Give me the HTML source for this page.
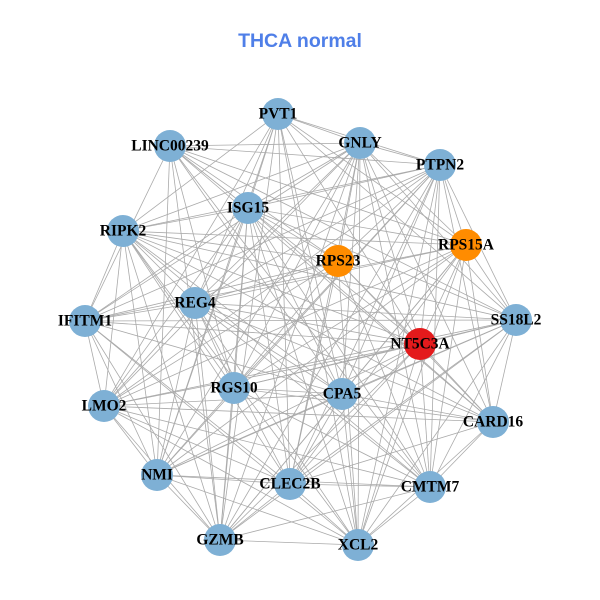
<!DOCTYPE html>
<html><head><meta charset="utf-8"><style>
html,body{margin:0;padding:0;background:#fff}
svg{display:block}
text.l{font-family:"Liberation Serif",serif;font-weight:bold;font-size:15.5px;fill:#000;text-anchor:middle;dominant-baseline:central}
</style></head><body>
<svg id="s" width="600" height="600" viewBox="0 0 600 600">
<text x="300" y="41" text-anchor="middle" dominant-baseline="central" style="font-family:'Liberation Sans',sans-serif;font-weight:bold;font-size:19.5px;fill:#4F7FE8">THCA normal</text>
<g id="e" stroke="#aaaaaa" stroke-width="0.8"></g>
<g id="n"></g>
<g>
<text class="l" x="278" y="114">PVT1</text>
<text class="l" x="360" y="143">GNLY</text>
<text class="l" x="440" y="165">PTPN2</text>
<text class="l" x="170" y="146">LINC00239</text>
<text class="l" x="248" y="208">ISG15</text>
<text class="l" x="123" y="231">RIPK2</text>
<text class="l" x="338" y="261">RPS23</text>
<text class="l" x="466" y="245">RPS15A</text>
<text class="l" x="195" y="303">REG4</text>
<text class="l" x="85" y="321">IFITM1</text>
<text class="l" x="516" y="320">SS18L2</text>
<text class="l" x="420" y="344">NT5C3A</text>
<text class="l" x="234" y="388">RGS10</text>
<text class="l" x="342" y="394">CPA5</text>
<text class="l" x="104" y="406">LMO2</text>
<text class="l" x="493" y="422">CARD16</text>
<text class="l" x="157" y="475">NMI</text>
<text class="l" x="290" y="484">CLEC2B</text>
<text class="l" x="430" y="487">CMTM7</text>
<text class="l" x="220" y="540">GZMB</text>
<text class="l" x="358" y="545">XCL2</text>
</g>
</svg>
<script>
var P=[[278,114],[360,143],[440,165],[170,146],[248,208],[123,231],[338,261,'#FF8C00'],[466,245,'#FF8C00'],[195,303],[85,321],[516,320],[420,344,'#E41A1C'],[234,388],[342,394],[104,406],[493,422],[157,475],[290,484],[430,487],[220,540],[358,545]];
var ns='http://www.w3.org/2000/svg',e=document.getElementById('e'),n=document.getElementById('n');
for(var i=0;i<P.length;i++)for(var j=i+1;j<P.length;j++){if((i*7+j*3)%9==0)continue;var l=document.createElementNS(ns,'line');l.setAttribute('x1',P[i][0]);l.setAttribute('y1',P[i][1]);l.setAttribute('x2',P[j][0]);l.setAttribute('y2',P[j][1]);e.appendChild(l);}
P.forEach(function(p){var c=document.createElementNS(ns,'circle');c.setAttribute('cx',p[0]);c.setAttribute('cy',p[1]);c.setAttribute('r',16);c.setAttribute('fill',p[2]||'#7EB0D5');n.appendChild(c);});
</script>
</body></html>
